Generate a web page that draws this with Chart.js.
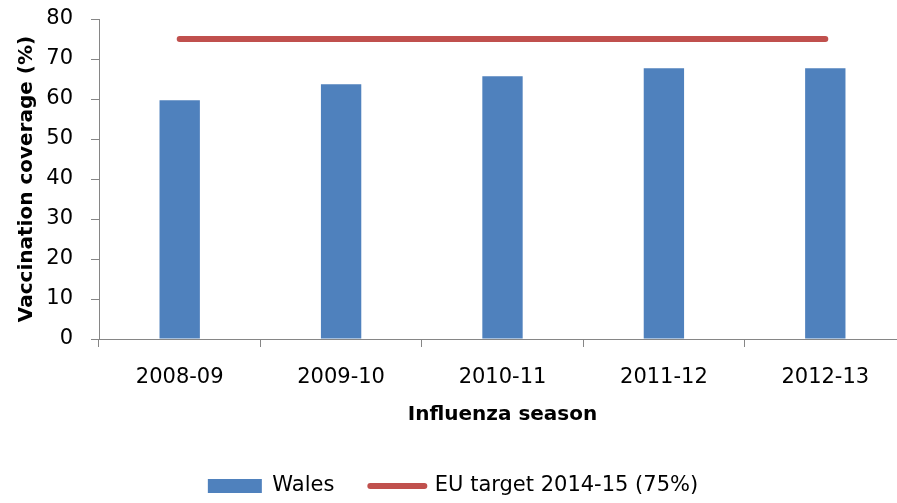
<!DOCTYPE html>
<html>
<head>
<meta charset="utf-8">
<script src="https://cdn.jsdelivr.net/npm/chart.js@4"></script>
<style>
html,body{margin:0;padding:0;background:#fff;overflow:hidden;}
#wrap{width:910px;height:503px;position:relative;}
</style>
</head>
<body>
<div id="wrap"><canvas id="c" width="910" height="503"></canvas></div>
<script>
const categories = ["2008-09", "2009-10", "2010-11", "2011-12", "2012-13"];
const walesValues = [59.7, 63.7, 65.7, 67.7, 67.7];
const euTarget = [75, 75, 75, 75, 75];
const yTicks = [0, 10, 20, 30, 40, 50, 60, 70, 80];

const FONT = "'DejaVu Sans', sans-serif";
const axisColor = "#868686";

new Chart(document.getElementById('c'), {
  data: {
    labels: categories,
    datasets: [
      {
        type: 'bar',
        label: 'Wales',
        data: walesValues,
        backgroundColor: '#4F81BD',
        borderWidth: 0,
        barPercentage: 0.5,
        categoryPercentage: 0.5,
        pointStyle: 'rect',
        order: 2
      },
      {
        type: 'line',
        label: 'EU target 2014-15 (75%)',
        data: euTarget,
        borderColor: '#C0504D',
        backgroundColor: '#C0504D',
        borderWidth: 6,
        borderCapStyle: 'round',
        pointRadius: 0,
        pointStyle: 'line',
        order: 1
      }
    ]
  },
  options: {
    responsive: false,
    animation: false,
    layout: { padding: { top: 0, right: 4, left: 0, bottom: -3.5 } },
    scales: {
      x: {
        offset: true,
        grid: { display: true, offset: true, drawOnChartArea: false, drawTicks: true, tickLength: 8, color: axisColor, lineWidth: 1 },
        border: { display: true, color: axisColor, width: 1 },
        ticks: { color: '#000', font: { family: FONT, size: 21 }, padding: 18, maxRotation: 0 },
        title: { display: true, text: 'Influenza season', color: '#000', font: { family: FONT, size: 20, weight: 'bold' }, padding: { top: 0, bottom: 13 } },
        afterFit: (s) => { s.height = 100.5; }
      },
      y: {
        min: 0, max: 80,
        afterBuildTicks: (s) => { s.ticks = yTicks.map(v => ({ value: v })); },
        grid: { display: true, drawOnChartArea: false, drawTicks: true, tickLength: 8, color: axisColor, lineWidth: 1 },
        border: { display: true, color: axisColor, width: 1 },
        ticks: { color: '#000', font: { family: FONT, size: 21 }, padding: 18 },
        title: { display: true, text: 'Vaccination coverage (%)', color: '#000', font: { family: FONT, size: 20, weight: 'bold' }, padding: { top: 15, bottom: 0 } },
        afterFit: (s) => { s.width = 99; s.paddingTop = 19; }
      }
    },
    plugins: {
      tooltip: { enabled: false },
      legend: {
        display: true,
        position: 'bottom',
        labels: {
          usePointStyle: true,
          pointStyleWidth: 54,
          boxHeight: 14,
          padding: 36,
          color: '#000',
          font: { family: FONT, size: 21 },
          sort: (a, b) => a.datasetIndex - b.datasetIndex,
          generateLabels: (chart) => {
            const base = Chart.defaults.plugins.legend.labels.generateLabels(chart);
            return base.map((it) => {
              const ds = chart.data.datasets[it.datasetIndex];
              if (ds.type === 'line') {
                it.lineWidth = 6;
                it.strokeStyle = ds.borderColor;
                it.fillStyle = ds.borderColor;
                it.lineCap = 'round';
                it.pointStyle = 'line';
              } else {
                it.lineWidth = 0;
                it.strokeStyle = ds.backgroundColor;
                it.fillStyle = ds.backgroundColor;
                it.pointStyle = 'rect';
              }
              return it;
            });
          }
        }
      }
    }
  }
});
</script>
</body>
</html>
